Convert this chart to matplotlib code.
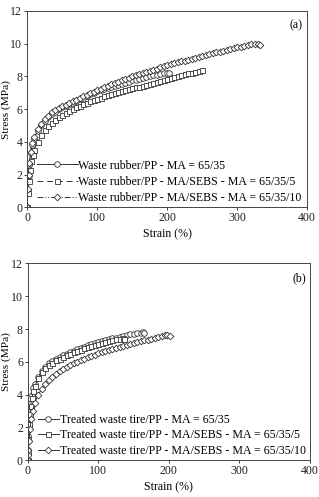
import matplotlib
matplotlib.use("Agg")
import matplotlib.pyplot as plt

plt.rcParams['font.family'] = ['Liberation Serif', 'DejaVu Serif']
plt.rcParams['font.size'] = 8.6

# ---- panel (a): waste rubber blends ----
a1_strain = [0, 1, 2, 3, 5, 7, 10, 15, 20, 25, 30, 35, 40, 45, 50, 55, 60, 65, 70, 75, 80,
             85, 90, 95, 100, 105, 110, 115, 120, 125, 130, 135, 140, 145, 150, 155, 160,
             165, 170, 175, 180, 185, 190, 195, 200, 203]
a1_stress = [0, 1.0, 1.9, 2.6, 3.3, 3.8, 4.2, 4.65, 5.0, 5.3, 5.5, 5.7, 5.85, 6.0, 6.1, 6.2,
             6.3, 6.4, 6.5, 6.6, 6.7, 6.8, 6.9, 7.0, 7.1, 7.15, 7.22, 7.3, 7.37, 7.43, 7.5,
             7.56, 7.62, 7.68, 7.75, 7.8, 7.86, 7.92, 7.97, 8.02, 8.07, 8.1, 8.15, 8.18, 8.2, 8.2]

a2_strain = [0, 1, 2, 4, 6, 8, 10, 15, 20, 25, 30, 35, 40, 45, 50, 55, 60, 65, 70, 75, 80,
             85, 90, 95, 100, 105, 110, 115, 120, 125, 130, 135, 140, 145, 150, 155, 160,
             165, 170, 175, 180, 185, 190, 195, 200, 205, 210, 215, 220, 225, 230, 235,
             240, 245, 250]
a2_stress = [0, 0.9, 1.6, 2.3, 2.85, 3.2, 3.5, 4.0, 4.4, 4.7, 4.95, 5.15, 5.35, 5.5, 5.65,
             5.78, 5.9, 6.0, 6.1, 6.2, 6.3, 6.39, 6.48, 6.56, 6.63, 6.7, 6.77, 6.84, 6.9,
             6.96, 7.02, 7.08, 7.14, 7.2, 7.26, 7.32, 7.38, 7.44, 7.5, 7.56, 7.62, 7.68,
             7.73, 7.79, 7.85, 7.9, 7.96, 8.01, 8.07, 8.12, 8.18, 8.23, 8.28, 8.33, 8.37]

a3_strain = [0, 1, 2, 3, 5, 7, 10, 15, 20, 25, 30, 35, 40, 45, 50, 55, 60, 65, 70, 75, 80,
             85, 90, 95, 100, 105, 110, 115, 120, 125, 130, 135, 140, 145, 150, 155, 160,
             165, 170, 175, 180, 185, 190, 195, 200, 205, 210, 215, 220, 225, 230, 235,
             240, 245, 250, 255, 260, 265, 270, 275, 280, 285, 290, 295, 300, 305, 310,
             315, 320, 325, 330, 333]
a3_stress = [0, 1.1, 2.0, 2.7, 3.4, 3.9, 4.3, 4.8, 5.1, 5.4, 5.6, 5.8, 5.95, 6.08, 6.18, 6.28,
             6.38, 6.48, 6.58, 6.68, 6.78, 6.88, 6.98, 7.07, 7.16, 7.25, 7.34, 7.43, 7.52,
             7.6, 7.68, 7.76, 7.84, 7.92, 8.0, 8.07, 8.14, 8.21, 8.28, 8.35, 8.42, 8.48,
             8.55, 8.61, 8.67, 8.73, 8.79, 8.85, 8.91, 8.97, 9.03, 9.09, 9.14, 9.2, 9.25,
             9.31, 9.36, 9.41, 9.47, 9.52, 9.57, 9.62, 9.67, 9.72, 9.77, 9.82, 9.87, 9.91,
             9.95, 9.97, 9.96, 9.91]

# ---- panel (b): treated waste tire blends ----
b1_strain = [0, 0.5, 1, 2, 3, 4, 6, 8, 10, 15, 20, 25, 30, 35, 40, 45, 50, 55, 60, 65, 70,
             75, 80, 85, 90, 95, 100, 105, 110, 115, 120, 125, 130, 135, 140, 145, 150,
             155, 160, 163, 165]
b1_stress = [0, 0.6, 1.5, 2.4, 3.0, 3.5, 4.0, 4.4, 4.65, 5.1, 5.45, 5.7, 5.9, 6.05, 6.2,
             6.3, 6.4, 6.5, 6.6, 6.68, 6.76, 6.84, 6.92, 7.0, 7.07, 7.14, 7.2, 7.26, 7.32,
             7.38, 7.43, 7.48, 7.53, 7.58, 7.62, 7.67, 7.71, 7.75, 7.78, 7.8, 7.78]

b2_strain = [0, 0.5, 1, 2, 3, 4, 6, 8, 10, 15, 20, 25, 30, 35, 40, 45, 50, 55, 60, 65, 70,
             75, 80, 85, 90, 95, 100, 105, 110, 115, 120, 125, 130, 135, 137]
b2_stress = [0, 0.5, 1.3, 2.2, 2.8, 3.3, 3.8, 4.2, 4.5, 5.0, 5.35, 5.6, 5.8, 5.95, 6.1, 6.2,
             6.3, 6.4, 6.5, 6.58, 6.66, 6.74, 6.82, 6.9, 6.97, 7.04, 7.1, 7.16, 7.22, 7.27,
             7.32, 7.37, 7.42, 7.46, 7.4]

b3_strain = [0, 0.5, 1, 2, 3, 5, 7, 10, 15, 20, 25, 30, 35, 40, 45, 50, 55, 60, 65, 70, 75,
             80, 85, 90, 95, 100, 105, 110, 115, 120, 125, 130, 135, 140, 145, 150, 155,
             160, 165, 170, 175, 180, 185, 190, 195, 198, 202]
b3_stress = [0, 0.3, 0.6, 1.2, 1.9, 2.5, 3.0, 3.5, 4.0, 4.35, 4.65, 4.9, 5.1, 5.28, 5.42,
             5.55, 5.68, 5.8, 5.9, 6.0, 6.1, 6.2, 6.28, 6.36, 6.44, 6.52, 6.59, 6.66, 6.73,
             6.8, 6.86, 6.92, 6.98, 7.04, 7.1, 7.15, 7.2, 7.25, 7.3, 7.35, 7.4, 7.45, 7.5,
             7.55, 7.62, 7.65, 7.6]

labels_a = ['Waste rubber/PP - MA = 65/35',
            'Waste rubber/PP - MA/SEBS - MA = 65/35/5',
            'Waste rubber/PP - MA/SEBS - MA = 65/35/10']
labels_b = ['Treated waste tire/PP - MA = 65/35',
            'Treated waste tire/PP - MA/SEBS - MA = 65/35/5',
            'Treated waste tire/PP - MA/SEBS - MA = 65/35/10']

ink = '#333333'
mk = dict(markersize=4.0, markerfacecolor='white', markeredgecolor=ink,
          markeredgewidth=0.6, color=ink, linewidth=0.7)

fig = plt.figure(figsize=(3.19, 4.97), dpi=100)
ax1 = fig.add_axes([0.085, 0.583, 0.878, 0.395])
ax2 = fig.add_axes([0.087, 0.074, 0.885, 0.396])

ax1.plot(a1_strain, a1_stress, marker='o', linestyle='-', label=labels_a[0], **mk)
ax1.plot(a2_strain, a2_stress, marker='s', linestyle=(0, (6, 4)), label=labels_a[1],
         **{**mk, 'markersize': 3.6})
ax1.plot(a3_strain, a3_stress, marker='D', linestyle=(0, (6, 2, 1, 2, 1, 2)),
         label=labels_a[2], **{**mk, 'markersize': 3.4})

ax2.plot(b1_strain, b1_stress, marker='o', linestyle='-', label=labels_b[0], **mk)
ax2.plot(b2_strain, b2_stress, marker='s', linestyle='-', label=labels_b[1],
         **{**mk, 'markersize': 3.6})
ax2.plot(b3_strain, b3_stress, marker='D', linestyle='-', label=labels_b[2],
         **{**mk, 'markersize': 3.4})

for ax, tag in [(ax1, '(a)'), (ax2, '(b)')]:
    ax.set_xlim(0, 400)
    ax.set_ylim(0, 12)
    ax.set_xticks([0, 100, 200, 300, 400])
    ax.set_yticks([0, 2, 4, 6, 8, 10, 12])
    ax.set_xlabel('Strain (%)', labelpad=3)
    ax.set_ylabel('Stress (MPa)', fontsize=8.2)
    ax.yaxis.set_label_coords(-0.058, 0.5)
    ax.tick_params(direction='out', length=2.5, width=0.6, pad=1.0, colors='#222222')
    for s in ax.spines.values():
        s.set_linewidth(0.7)
        s.set_color('#444444')
    ax.text(0.985, 0.955, tag, transform=ax.transAxes, ha='right', va='top')

ax1.legend(loc='lower left', bbox_to_anchor=(0.01, -0.02), frameon=False, numpoints=1,
           handlelength=3.4, handletextpad=0.0, labelspacing=0.35, borderaxespad=0.2)
ax2.legend(loc='lower left', bbox_to_anchor=(0.01, -0.02), frameon=False, numpoints=1,
           handlelength=1.8, handletextpad=0.1, labelspacing=0.3, borderaxespad=0.2)

fig.savefig('out.png', dpi=100)
